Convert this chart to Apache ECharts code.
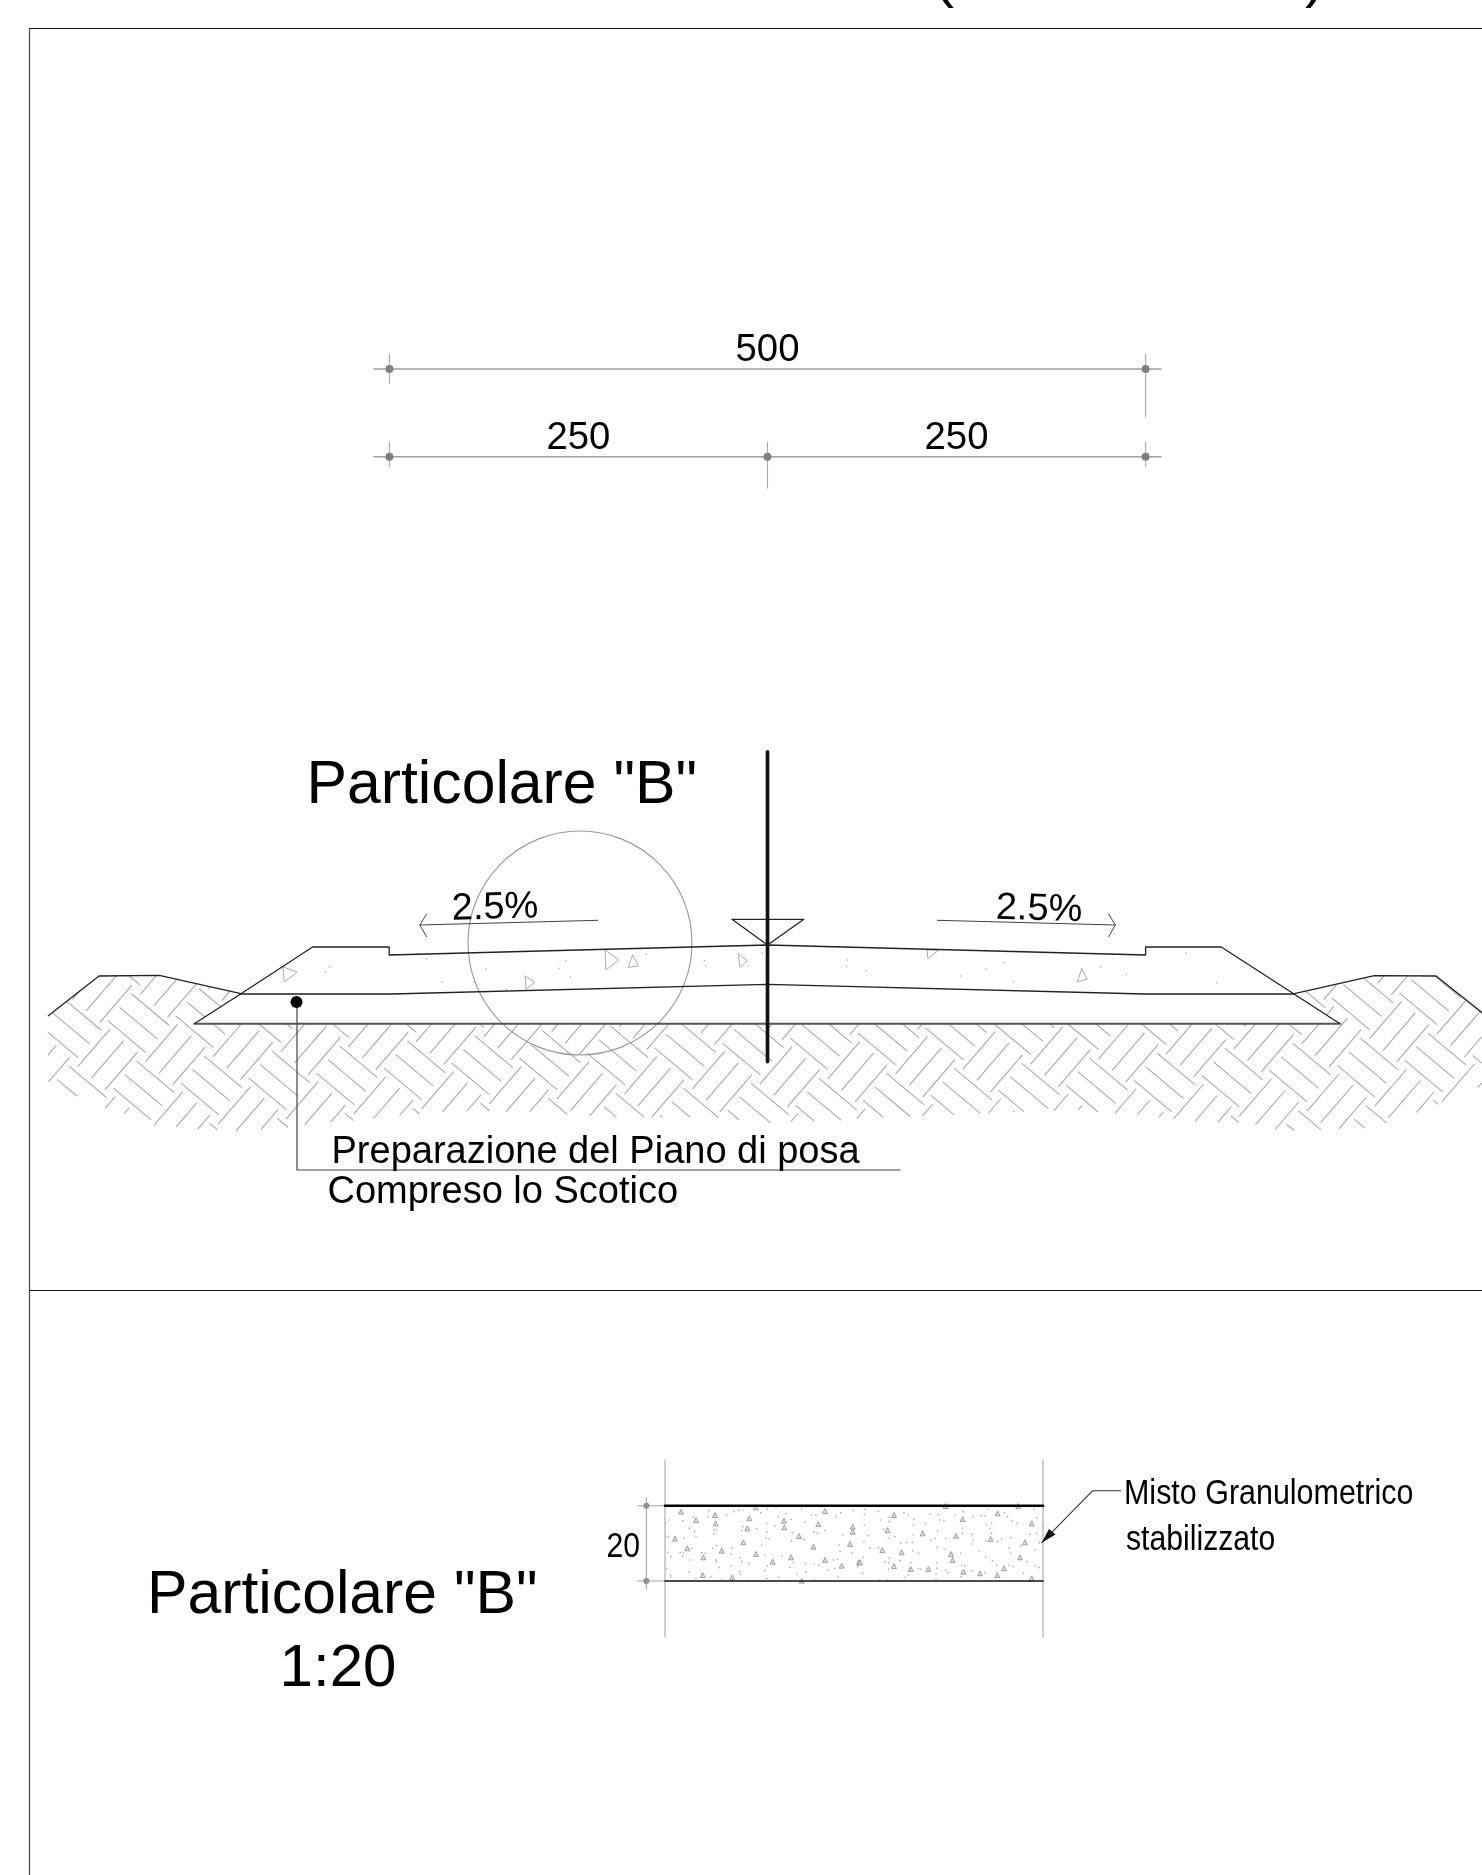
<!DOCTYPE html>
<html><head><meta charset="utf-8">
<style>html,body{margin:0;padding:0;background:#fff;overflow:hidden}#c{width:1482px;height:1875px}</style>
<script src="https://cdn.jsdelivr.net/npm/echarts@6/dist/echarts.min.js"></script>
</head><body><div id="c"></div>
<script>
// ---------- drawing geometry (drawing units) ----------
const frameTop = [[29.5,28.5],[1482,28.5]];
const frameLeft = [[29.5,28.5],[29.5,1875]];
const frameDivider = [[29.5,1290.5],[1482,1290.5]];

const dimRow500 = [[374,369],[1161,369]];
const dimRow250 = [[374,456.7],[1161,456.7]];
const dimTicks = [
  [[389.4,354],[389.4,383.5]], [[1145.6,354],[1145.6,417]],
  [[389.4,442],[389.4,466.6]], [[767.5,442],[767.5,488]], [[1145.6,442],[1145.6,466.6]]
];
const dimNodes = [[389.4,369],[1145.6,369],[389.4,456.7],[767.5,456.7],[1145.6,456.7]];

const soilLeft = [[48.3,1015.7],[99,976],[159.3,975.3],[241,993.7]];
const soilRight = [[1294.3,993.7],[1374.3,975.7],[1436,976],[1482,1012.7]];
const roadTop = [[194.3,1023.7],[241,993.7],[312.6,947],[389.2,947],[389.2,955],[767.5,945],
                 [1145.6,955],[1145.6,947],[1221.3,947],[1340,1023.7]];
const layerLine = [[240,994],[391.7,994],[767.5,984.3],[1144.6,994],[1293.7,994]];
const formation = [[194.3,1023.7],[1340,1023.7]];
const levelMark = [[732,919.3],[803.9,919.3],[767.5,945],[732,919.3]];
const centreLine = [[767.5,751.7],[767.5,1061.7]];
const slopeLeft = [[597.7,920.3],[419.8,925]];
const slopeLeftHead = [[426.6,914],[419.8,925],[426.6,936.7]];
const slopeRight = [[937.3,920.3],[1115.3,925]];
const slopeRightHead = [[1108.7,914],[1115.3,925],[1108.7,936.7]];
const leaderPlane = [[297,1001.7],[297,1170],[900,1170]];
const leaderDot = [[296.5,1002]];
const detailCircle = [[580,943]];

const gravelOutlines = [
  [[282.7,966.7],[297.3,972.3],[284.3,982]],
  [[605,950],[619,960],[605.9,970]],
  [[632.6,955],[638.4,966],[628.2,967.3]],
  [[738.2,954],[747.4,960.7],[740.2,967.3]],
  [[525,976],[534.6,982.3],[526,989.3]],
  [[927,950],[938.8,950],[927.9,958.7]],
  [[1081.7,968.7],[1087.4,979.3],[1077.4,981.7]]
];
const roadSpecks = [[426.6,958.7],[329.6,966.7],[325.7,971.7],[486.2,969],[566.2,960.7],[558.9,968.3],[570.5,976.7],
  [442,982.3],[474,982.3],[506.6,989.3],[646.1,954.3],[704.3,960.7],[705.8,965.7],[847.4,960],[846.5,966.7],
  [866.4,970.7],[762.2,953.3],[961,976],[986.1,969.3],[1004.1,962.7],[1013.5,981.7],[1100.6,967.3],[1126.2,974.3],
  [1186.3,953.3],[1216.6,982.7]];

// outline of the hatched ground
const soilBoundary = [[48,1016],[99,976],[159.3,975.3],[241,993.7],[194.3,1023.7],[1340,1023.7],[1294.3,993.7],
  [1374.3,975.7],[1436,976],[1482,1012.7],[1482,1085],[1471,1092],[1442,1103],[1412,1114],[1391,1122],[1369,1128],
  [1335,1129],[1300,1131],[1271,1129],[1249,1123],[1190,1121],[1135,1115],[1076,1110],[1012,1112],[948,1115],
  [887,1117],[844,1120],[787,1122],[760,1123],[727,1118],[650,1117],[606,1117],[538,1112],[485,1111],[440,1112],
  [378,1118],[330,1122],[305,1125],[288,1127],[237,1131],[198,1129],[154,1125],[125,1114],[106,1108],[74,1095],[48,1082]];

// herringbone hatch tile
const hatchBackAnchor = [131.67,994], hatchBackStroke = [37,31], hatchBackStep = [-11.7,13.55];
const hatchSlashAnchor = [78,1066.33], hatchSlashStroke = [31.67,-36.67], hatchSlashStep = [13.67,11.5];
const hatchLatticeA = [67.7,-5], hatchLatticeB = [5.3,67.3];

// bottom detail
const boxTop = [[665,1505.7],[1043,1505.7]];
const boxBottom = [[665,1581],[1043,1581]];
const boxSides = [[[665,1460],[665,1637]],[[1043,1460],[1043,1637]]];
const boxDim = [[[646.4,1498],[646.4,1589]],[[637.6,1505.7],[665,1505.7]],[[637.6,1581],[665,1581]]];
const boxDimNodes = [[646.4,1505.7],[646.4,1581]];
const noteLeader = [[1120.7,1490.7],[1092.7,1490.7],[1041.7,1542.7]];
const noteArrow = [[1041.7,1542.7],[1049,1529],[1055.5,1534.5]];

const cropL = [660,1500], cropR = [855,1500];
const gravelL = [[63,35],[108,60],[165,45],[167,70],[268,55],[262,85],[372,62],[475,72],[373,82],[495,33],[578,80],[578,95],[417,108],[45,116],[250,127],[82,145],[185,152],[130,172],[288,162],[338,185],[393,172],[460,140],[570,132],[495,180],[545,197],[128,225],[217,232],[597,187],[425,242],[287,22]];
const gravelR = [[117,45],[97,90],[203,100],[303,107],[323,57],[428,40],[530,70],[407,117],[510,127],[82,150],[140,157],[288,162],[293,180],[495,172],[15,187],[117,198],[167,207],[220,207],[325,215],[375,220],[447,205],[427,225],[530,235],[272,18],[490,18]];
const speckL = [[147,32],[145,52],[160,52],[200,45],[222,35],[237,32],[248,30],[302,38],[322,20],[322,28],[348,22],[378,40],[355,50],[393,58],[435,67],[425,25],[455,45],[468,45],[520,20],[542,38],[527,50],[580,32],[27,60],[17,70],[68,62],[100,52],[88,85],[103,95],[108,110],[163,88],[170,90],[162,102],[248,80],[245,92],[290,85],[320,70],[320,95],[345,78],[397,98],[395,122],[432,118],[462,95],[472,100],[495,92],[548,105],[537,135],[17,108],[25,110],[72,115],[95,145],[158,145],[170,137],[305,135],[318,115],[327,117],[215,145],[213,163],[24,157],[33,170],[60,158],[70,157],[68,168],[125,158],[135,160],[168,180],[170,185],[90,180],[240,173],[245,185],[268,190],[315,165],[322,198],[315,212],[366,168],[400,188],[390,202],[437,190],[463,192],[477,195],[520,180],[532,178],[540,155],[575,158],[503,210],[525,205],[88,215],[20,205],[32,225],[32,232],[177,203],[213,198],[238,215],[242,222],[108,235],[152,230],[185,238],[355,232],[320,236],[410,222],[438,217],[462,240],[535,230],[263,242],[285,242]];
const speckR = [[30,28],[28,43],[70,35],[147,38],[160,45],[177,58],[175,75],[225,42],[250,45],[255,60],[267,62],[212,70],[103,52],[103,65],[78,60],[300,45],[325,35],[355,50],[378,47],[398,27],[390,47],[448,38],[458,50],[470,62],[487,70],[538,28],[545,53],[410,70],[395,75],[405,85],[410,100],[28,75],[40,107],[85,88],[100,115],[120,110],[175,105],[240,115],[228,120],[248,93],[272,115],[322,85],[322,100],[352,103],[355,120],[350,132],[393,122],[428,125],[440,117],[468,113],[525,103],[545,100],[497,137],[553,128],[27,125],[45,145],[70,143],[137,130],[155,128],[172,127],[173,153],[190,160],[247,142],[272,147],[317,160],[372,153],[463,143],[467,160],[540,150],[25,172],[103,175],[90,185],[100,187],[135,182],[168,187],[190,205],[245,188],[245,205],[197,208],[272,210],[278,218],[320,195],[330,198],[350,212],[392,170],[390,218],[412,182],[425,197],[462,195],[475,200],[515,185],[540,197],[552,203],[505,220],[8,200],[23,220],[100,208],[160,225],[150,232],[243,222],[243,238],[318,230],[75,240],[97,240],[562,75]];

// texts
const dimLabels = ['500','250','250'];
const slopeLabel = '2.5%';
const titleDetail = 'Particolare "B"';
const scaleLabel = '1:20';
const noteLines = ['Preparazione del Piano di posa','Compreso lo Scotico'];
const boxLabel = '20';
const boxNotes = ['Misto Granulometrico','stabilizzato'];
const headParens = ['(',')'];

// ---------- helpers ----------
const fromCrop = (o, pts) => pts.map(p => [o[0]+p[0]/3, o[1]+p[1]/3]);
function inside(p, poly){
  let c=false;
  for(let i=0,j=poly.length-1;i<poly.length;j=i++){
    const a=poly[i],b=poly[j];
    if((a[1]>p[1])!==(b[1]>p[1]) && p[0]<(b[0]-a[0])*(p[1]-a[1])/(b[1]-a[1])+a[0]) c=!c;
  }
  return c;
}
function clipStroke(s, d, out){
  const N=48; let run=null;
  for(let i=0;i<=N;i++){
    const p=[s[0]+d[0]*i/N, s[1]+d[1]*i/N];
    if(inside(p,soilBoundary)){ if(!run) run=[p,p]; else run[1]=p; }
    else if(run){ out.push(run); run=null; }
  }
  if(run) out.push(run);
}
const hatchStrokes=[];
for(let n=-4;n<=24;n++) for(let m=-4;m<=5;m++) for(let k=0;k<3;k++){
  const ox=n*hatchLatticeA[0]+m*hatchLatticeB[0], oy=n*hatchLatticeA[1]+m*hatchLatticeB[1];
  clipStroke([hatchBackAnchor[0]+ox+k*hatchBackStep[0],hatchBackAnchor[1]+oy+k*hatchBackStep[1]],hatchBackStroke,hatchStrokes);
  clipStroke([hatchSlashAnchor[0]+ox+k*hatchSlashStep[0],hatchSlashAnchor[1]+oy+k*hatchSlashStep[1]],hatchSlashStroke,hatchStrokes);
}
const lines=(name,paths,color,width,extra)=>Object.assign({
  name,type:'lines',coordinateSystem:'cartesian2d',polyline:true,silent:true,
  data:paths.map(c=>({coords:c})),lineStyle:{color,width,opacity:1,cap:'round',join:'round'},effect:{show:false}
},extra||{});
const dots=(name,data,symbol,size,color,z)=>({
  name,type:'scatter',data,symbol,symbolSize:size,silent:true,z:z||3,itemStyle:{color,opacity:1}
});
const SANS='"Liberation Sans",Arial,sans-serif';
const textRows=[
  {t:dimLabels[0],x:767.5,y:361,s:38.3,a:'center'},
  {t:dimLabels[1],x:578.4,y:448.5,s:38.3,a:'center'},
  {t:dimLabels[2],x:956.5,y:448.5,s:38.3,a:'center'},
  {t:titleDetail,x:306.5,y:802.2,s:60.7},
  {t:slopeLabel,x:452,y:919.5,s:38,r:0.028},
  {t:slopeLabel,x:995.5,y:918.5,s:38,r:-0.028},
  {t:noteLines[0],x:331.5,y:1162.7,s:38},
  {t:noteLines[1],x:327.5,y:1203,s:38},
  {t:titleDetail,x:147,y:1612.7,s:60.7},
  {t:scaleLabel,x:338,y:1685.3,s:60,a:'center'},
  {t:boxLabel,x:606.5,y:1556.7,s:35,sx:0.862},
  {t:boxNotes[0],x:1124,y:1503.3,s:35,sx:0.87},
  {t:boxNotes[1],x:1126,y:1550,s:35,sx:0.862},
  {t:headParens[0],x:934,y:-4,s:60},
  {t:headParens[1],x:1305,y:-4,s:60}
];
const chart=echarts.init(document.getElementById('c'),null,{renderer:'canvas',width:1482,height:1875});
chart.setOption({
  animation:false,backgroundColor:'#fff',
  grid:{left:0,right:0,top:0,bottom:0,containLabel:false},
  xAxis:{type:'value',min:0,max:1482,show:false},
  yAxis:{type:'value',min:0,max:1875,inverse:true,show:false},
  series:[
    lines('hatch',hatchStrokes,'#a8a8a8',1.1,{z:1}),
    {name:'detailCircle',type:'scatter',data:detailCircle,symbol:'circle',symbolSize:224,silent:true,z:2,
     itemStyle:{color:'rgba(0,0,0,0)',borderColor:'#999',borderWidth:1.1,opacity:1}},
    lines('frame',[frameTop,frameDivider],'#111',1.2,{z:2}),
    lines('frameLeft',[frameLeft],'#444',1.2,{z:2}),
    lines('dimensions',[dimRow500,dimRow250],'#a0a0a0',1.6,{z:2}),
    lines('dimTicks',dimTicks.concat(boxSides),'#a8a8a8',1.1,{z:2}),
    lines('boxDim',boxDim,'#a8a8a8',1.1,{z:2}),
    dots('dimNodes',dimNodes,'circle',8,'#808080'),
    dots('boxDimNodes',boxDimNodes,'circle',6,'#909090'),
    lines('gravelOutlines',gravelOutlines.map(t=>t.concat([t[0]])),'#aaa',1,{z:2}),
    dots('roadSpecks',roadSpecks,'circle',1.6,'#aaa'),
    lines('formation',[formation],'#555',1.9,{z:3}),
    lines('section',[soilLeft,soilRight,roadTop,layerLine],'#222',1.3,{z:4}),
    lines('levelMark',[levelMark],'#222',1.3,{z:4}),
    lines('slopes',[slopeLeft,slopeLeftHead,slopeRight,slopeRightHead],'#444',1,{z:4}),
    lines('leaderPlane',[leaderPlane],'#444',1.2,{z:4}),
    lines('centreLine',[centreLine],'#111',3.6,{z:5}),
    dots('leaderDot',leaderDot,'circle',12,'#000',5),
    lines('boxTop',[boxTop],'#000',2.6,{z:4}),
    lines('boxBottom',[boxBottom],'#111',1.6,{z:4}),
    {name:'gravelBox',type:'scatter',data:fromCrop(cropL,gravelL).concat(fromCrop(cropR,gravelR)),symbol:'triangle',symbolSize:5,silent:true,z:3,
     itemStyle:{color:'#dcdcdc',borderColor:'#909090',borderWidth:0.8,opacity:1}},
    dots('speckBox',fromCrop(cropL,speckL).concat(fromCrop(cropR,speckR)),'circle',1.6,'#a4a4a4'),
    lines('noteLeader',[noteLeader],'#333',1.1,{z:4}),
    {name:'noteArrow',type:'custom',silent:true,z:5,data:[0],clip:false,
     renderItem:(p,api)=>({type:'polygon',shape:{points:noteArrow.map(q=>api.coord(q))},style:{fill:'#111'}})},
    {name:'texts',type:'custom',silent:true,z:6,clip:false,data:textRows.map(t=>[t.x,t.y]),
     renderItem:(p,api)=>{
       const t=textRows[p.dataIndex], c=api.coord([t.x,t.y]);
       return {type:'text',x:c[0],y:c[1],rotation:t.r||0,scaleX:t.sx||1,
         style:{text:t.t,x:0,y:-0.27*t.s,fill:'#000',font:t.s+'px '+SANS,
                textAlign:t.a||'left',textVerticalAlign:'middle',align:t.a||'left',verticalAlign:'middle'}};
     }}
  ]
});
</script></body></html>
